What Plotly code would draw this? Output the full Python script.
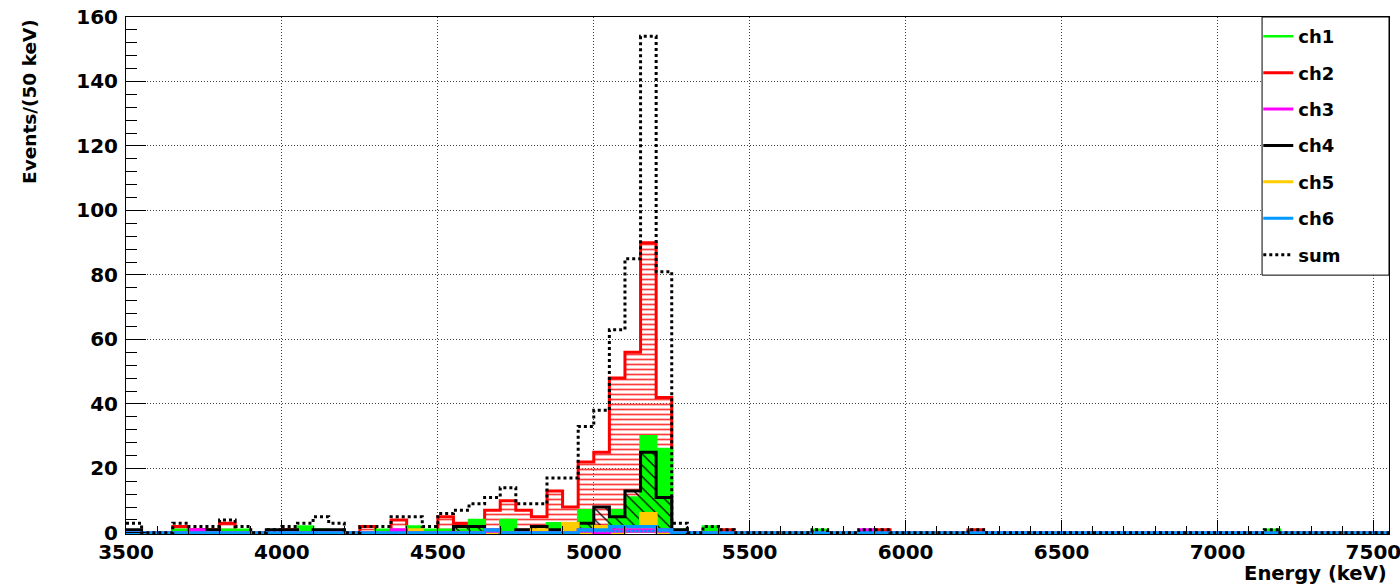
import numpy as np
import plotly.graph_objects as go

FONT = "DejaVu Sans"

# 50 keV bins covering 3500-7550 keV (81 bins)
bin_edges = np.arange(3500, 7551, 50)

# Counts per bin for each channel
ch1 = [0, 0, 0, 1, 0, 0, 1, 1, 0, 0,
       0, 2, 1, 0, 0, 0, 1, 0, 2, 1,
       1, 1, 4, 0, 4, 0, 0, 3, 0, 7,
       2, 7, 11, 30, 26, 1, 0, 2, 0, 0,
       0, 0, 0, 0, 1, 0, 0, 0, 0, 0,
       0, 0, 0, 0, 0, 0, 0, 0, 0, 0,
       0, 0, 0, 0, 0, 0, 0, 0, 0, 0,
       0, 0, 0, 1, 0, 0, 0, 0, 0, 0,
       0]
ch2 = [0, 0, 0, 2, 1, 1, 3, 0, 0, 0,
       1, 0, 0, 0, 0, 2, 0, 4, 0, 0,
       5, 3, 3, 7, 10, 7, 5, 13, 8, 22,
       25, 48, 56, 90, 42, 0, 0, 0, 1, 0,
       0, 0, 0, 0, 0, 0, 0, 0, 1, 0,
       0, 0, 0, 0, 1, 0, 0, 0, 0, 0,
       0, 0, 0, 0, 0, 0, 0, 0, 0, 0,
       0, 0, 0, 0, 0, 0, 0, 0, 0, 0,
       0]
ch3 = [0, 0, 0, 0, 1, 0, 0, 0, 0, 0,
       0, 0, 0, 0, 0, 0, 0, 1, 0, 0,
       0, 0, 0, 1, 0, 0, 0, 0, 0, 1,
       0, 1, 1, 1, 1, 0, 0, 0, 0, 0,
       0, 0, 0, 0, 0, 0, 0, 1, 0, 0,
       0, 0, 0, 0, 0, 0, 0, 0, 0, 0,
       0, 0, 0, 0, 0, 0, 0, 0, 0, 0,
       0, 0, 0, 0, 0, 0, 0, 0, 0, 0,
       0]
ch4 = [1, 0, 0, 0, 0, 1, 0, 0, 0, 1,
       1, 0, 1, 1, 0, 0, 0, 0, 0, 0,
       0, 2, 2, 0, 0, 1, 2, 1, 2, 3,
       8, 5, 13, 25, 11, 1, 0, 0, 0, 0,
       0, 0, 0, 0, 0, 0, 0, 0, 0, 0,
       0, 0, 0, 0, 0, 0, 0, 0, 0, 0,
       0, 0, 0, 0, 0, 0, 0, 0, 0, 0,
       0, 0, 0, 0, 0, 0, 0, 0, 0, 0,
       0]
ch5 = [0, 0, 0, 0, 0, 0, 0, 0, 0, 0,
       0, 0, 0, 0, 0, 0, 0, 0, 1, 0,
       0, 0, 0, 0, 0, 0, 1, 0, 3, 0,
       2, 0, 2, 6, 0, 0, 0, 0, 0, 0,
       0, 0, 0, 0, 0, 0, 0, 0, 0, 0,
       0, 0, 0, 0, 0, 0, 0, 0, 0, 0,
       0, 0, 0, 0, 0, 0, 0, 0, 0, 0,
       0, 0, 0, 0, 0, 0, 0, 0, 0, 0,
       0]
ch6 = [0, 0, 0, 0, 0, 0, 0, 0, 0, 0,
       0, 0, 0, 0, 0, 0, 0, 0, 0, 0,
       0, 0, 0, 1, 0, 0, 0, 0, 0, 1,
       1, 2, 2, 2, 1, 0, 0, 0, 0, 0,
       0, 0, 0, 0, 0, 0, 0, 0, 0, 0,
       0, 0, 0, 0, 0, 0, 0, 0, 0, 0,
       0, 0, 0, 0, 0, 0, 0, 0, 0, 0,
       0, 0, 0, 0, 0, 0, 0, 0, 0, 0,
       0]
total = [3, 0, 0, 3, 2, 2, 4, 2, 0, 1,
         2, 3, 5, 3, 0, 2, 2, 5, 5, 2,
         6, 7, 9, 11, 14, 9, 9, 17, 17, 33,
         38, 63, 85, 154, 81, 3, 0, 2, 1, 0,
         0, 0, 0, 0, 1, 0, 0, 1, 1, 0,
         0, 0, 0, 0, 1, 0, 0, 0, 0, 0,
         0, 0, 0, 0, 0, 0, 0, 0, 0, 0,
         0, 0, 0, 1, 0, 0, 0, 0, 0, 0,
         0]

fig = go.Figure()


def step_y(counts):
    # repeat last count so the final bin gets its horizontal segment
    return list(counts) + [counts[-1]]


def add_hist(name, counts, color, width, rank, fillcolor=None, pattern=None, dash=None):
    y = step_y(counts)
    if fillcolor is not None or pattern is not None:
        kw = {}
        if pattern is not None:
            kw["fillpattern"] = pattern
            kw["fillcolor"] = "rgba(0,0,0,0)"
        else:
            kw["fillcolor"] = fillcolor
        fig.add_trace(go.Scatter(
            x=bin_edges, y=y, mode="lines", fill="tozeroy",
            line=dict(width=0, shape="hv"), showlegend=False,
            hoverinfo="skip", **kw))
    fig.add_trace(go.Scatter(
        x=bin_edges, y=y, mode="lines", name=name,
        line=dict(color=color, width=width, shape="hv", dash=dash),
        legendgroup=name, legendrank=rank))


add_hist("ch2", ch2, "#ff0000", 3, 2,
         pattern=dict(shape="-", fgcolor="#ff3c3c", bgcolor="rgba(255,255,255,0)",
                      size=5, solidity=0.35, fillmode="replace"))
add_hist("ch1", ch1, "#00ff00", 2.5, 1, fillcolor="#00ff00")
add_hist("ch4", ch4, "#000000", 3, 4,
         pattern=dict(shape="\\", fgcolor="#000000", bgcolor="rgba(255,255,255,0)",
                      size=8, solidity=0.15, fillmode="replace"))
add_hist("ch5", ch5, "#ffcc00", 3, 5, fillcolor="#ffcc00")
add_hist("ch3", ch3, "#ff00ff", 3, 3, fillcolor="#ff00ff")
add_hist("ch6", ch6, "#0099ff", 3, 6,
         pattern=dict(shape=".", fgcolor="#0099ff", bgcolor="rgba(255,255,255,0)",
                      size=4, solidity=0.5, fillmode="replace"))
add_hist("sum", total, "#000000", 3, 7, dash="3px,3px")

axis_font = dict(family=FONT, size=20, color="black", weight="bold")
grid_kw = dict(showgrid=True, gridcolor="rgba(0,0,0,0.75)", griddash="1px,2px", gridwidth=1)

fig.update_layout(
    width=1400, height=588,
    margin=dict(l=126, r=11, t=17, b=54),
    paper_bgcolor="white", plot_bgcolor="white",
    showlegend=True,
    legend=dict(
        x=0.8965, xanchor="left", y=0.998, yanchor="top",
        bgcolor="rgba(0,0,0,0)", borderwidth=0,
        font=dict(family=FONT, size=18, color="black", weight="bold"),
        traceorder="grouped", tracegroupgap=10,
    ),
    xaxis=dict(
        range=[3500, 7550], tick0=3500, dtick=500,
        ticks="inside", ticklen=14, tickwidth=1, tickcolor="black",
        showline=True, linecolor="black", linewidth=1, mirror=True,
        zeroline=False, tickfont=axis_font, ticklabelstandoff=0,
        automargin=False, ticklabeloverflow="allow",
        minor=dict(tick0=3500, dtick=100, ticks="inside", ticklen=8,
                   tickcolor="black", showgrid=False),
        **grid_kw,
    ),
    yaxis=dict(
        range=[-0.35, 160], tick0=0, dtick=20,
        ticks="inside", ticklen=20, tickwidth=1, tickcolor="black",
        showline=True, linecolor="black", linewidth=1, mirror=True,
        zeroline=False, tickfont=axis_font, ticklabelstandoff=3,
        automargin=False, ticklabeloverflow="allow",
        minor=dict(tick0=0, dtick=4, ticks="inside", ticklen=11,
                   tickcolor="black", showgrid=False),
        **grid_kw,
    ),
    shapes=[dict(
        type="rect", xref="paper", yref="paper",
        x0=0.8995, x1=1.0, y0=0.5007, y1=1.0,
        line=dict(color="black", width=1), fillcolor="white", layer="above",
    )],
    annotations=[
        dict(text="Events/(50 keV)", textangle=-90, showarrow=False,
             xref="paper", yref="paper", x=-0.0764, xanchor="center",
             y=1.0, yanchor="top",
             font=dict(family=FONT, size=18.5, color="black", weight="bold")),
        dict(text="Energy (keV)", showarrow=False,
             xref="paper", yref="paper", x=1.0, xanchor="right",
             y=-0.0755, yanchor="middle",
             font=dict(family=FONT, size=19.6, color="black", weight="bold")),
    ],
)

fig.write_html("out.html")
